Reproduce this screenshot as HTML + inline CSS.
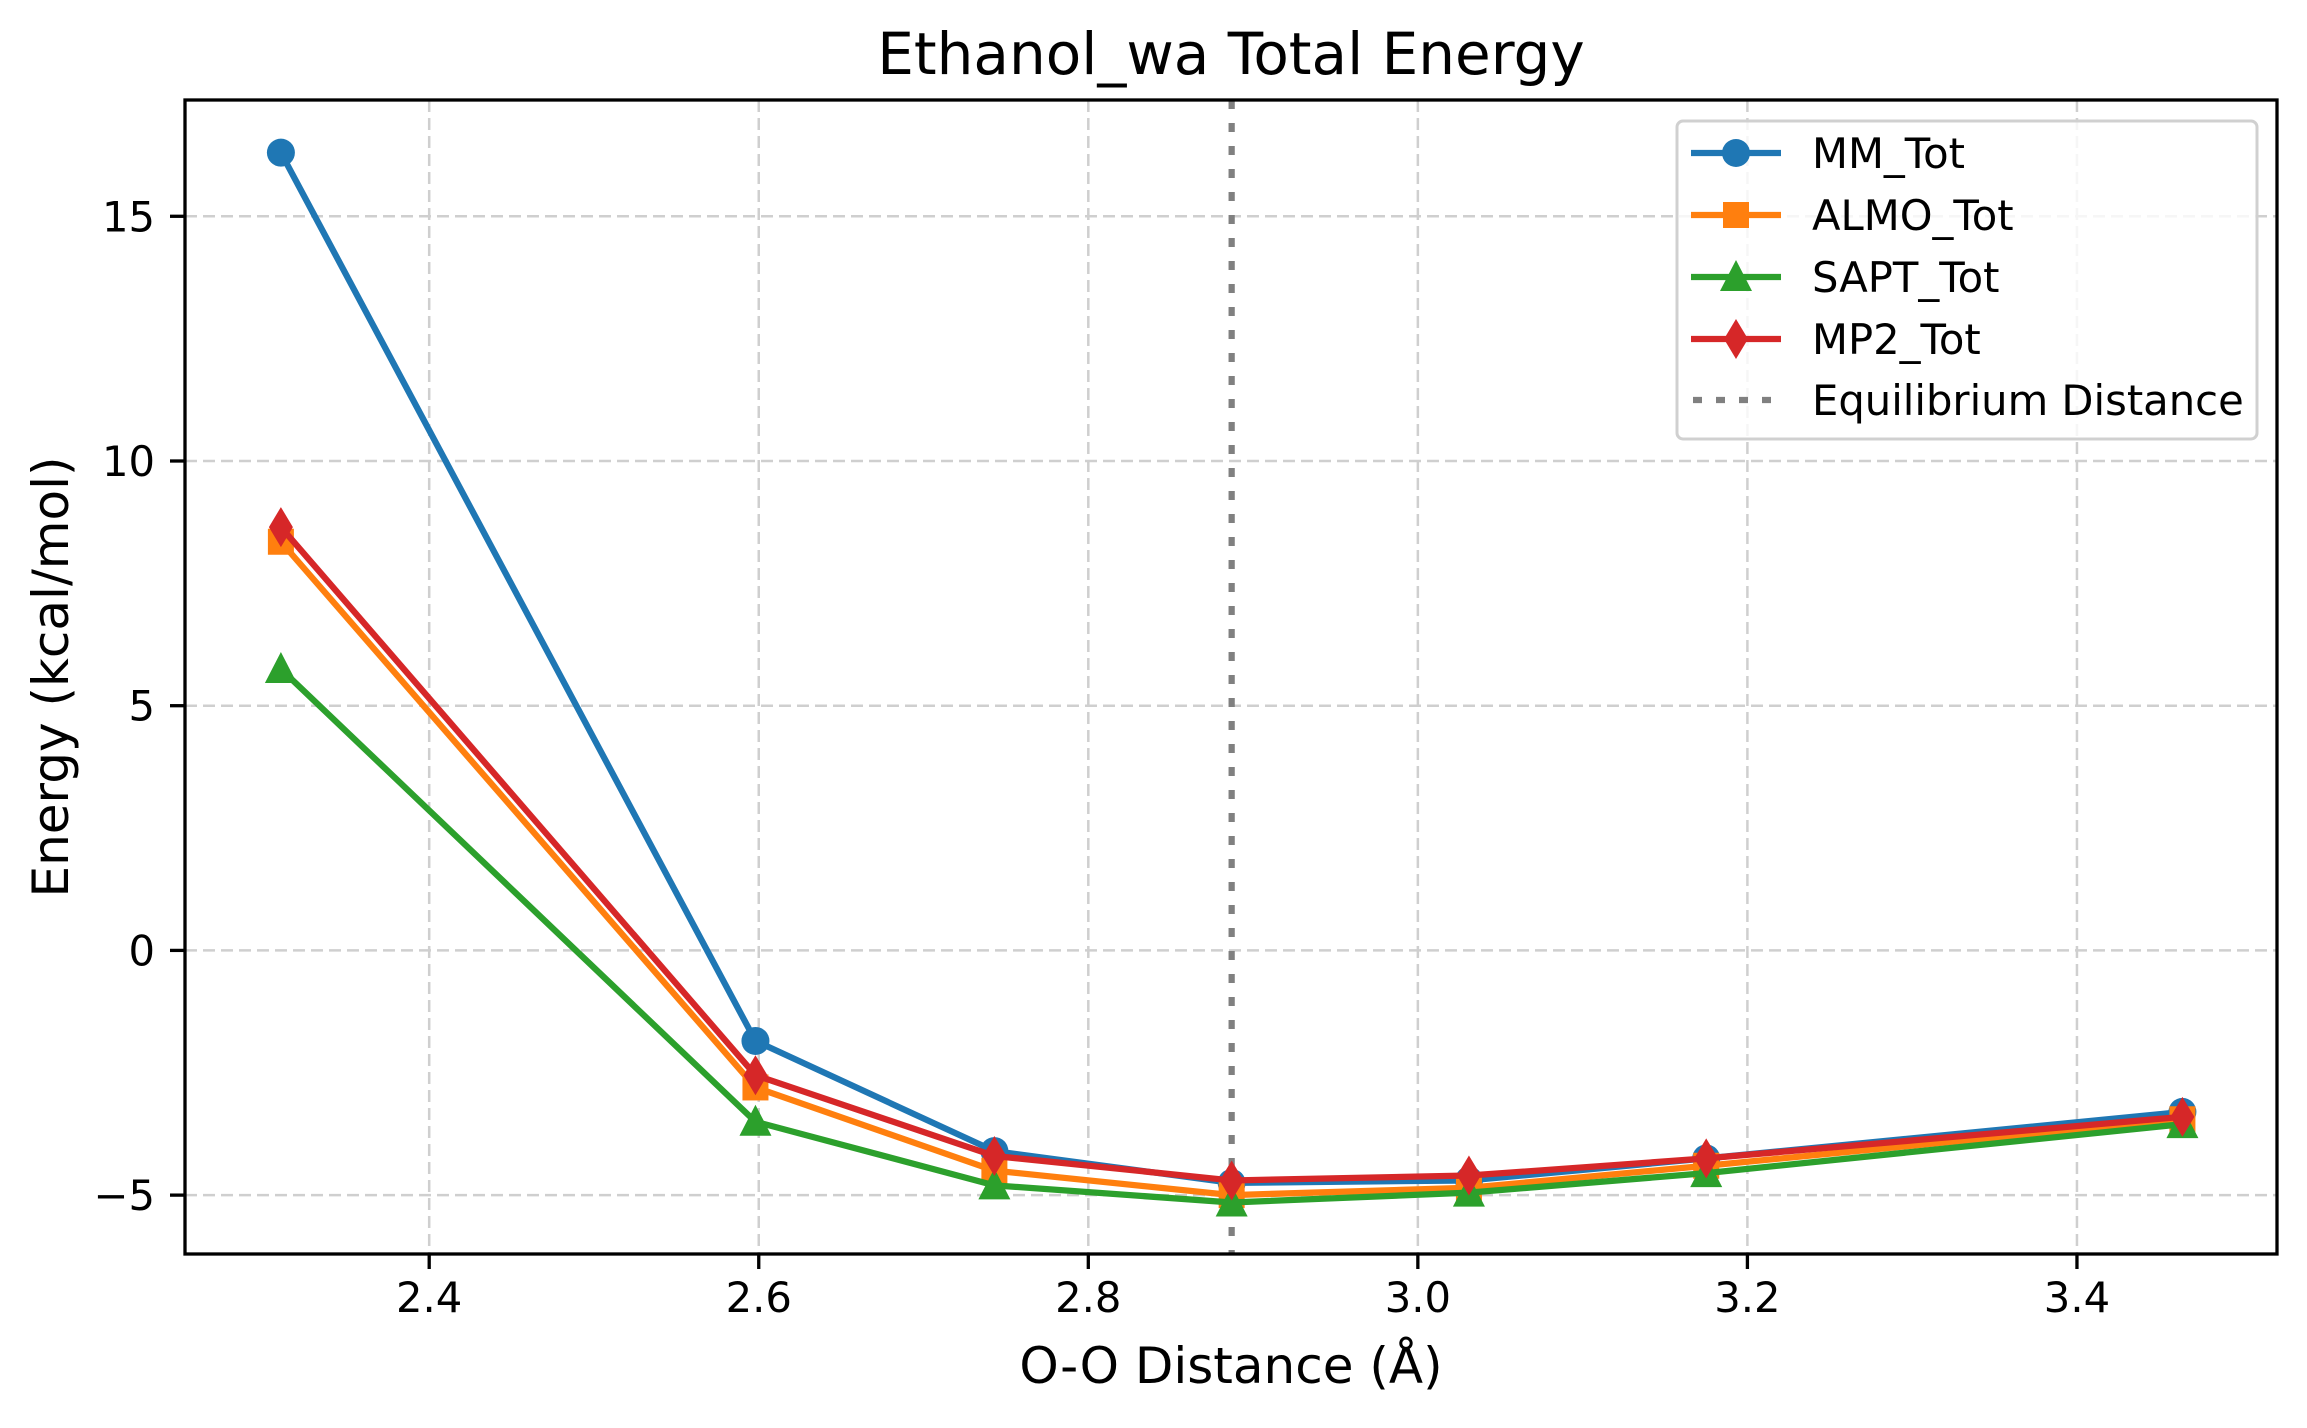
<!DOCTYPE html>
<html><head><meta charset="utf-8"><style>
html,body{margin:0;padding:0;background:#fff}
svg text{font-family:"DejaVu Sans","Liberation Sans",sans-serif;fill:#000}
</style></head><body>
<svg id="chart" width="2307" height="1423" viewBox="0 0 2307 1423" xmlns="http://www.w3.org/2000/svg">
<rect width="2307" height="1423" fill="#fff"/>
<g id="grid"></g>
<g id="eq"></g>
<g id="series"></g>
<rect x="185" y="100" width="2092" height="1154" fill="none" stroke="#000" stroke-width="3.3"/>
<g id="ticks"></g>
<text x="1231" y="74" font-size="58" text-anchor="middle">Ethanol_wa Total Energy</text>
<text x="1231" y="1383" font-size="50" text-anchor="middle">O-O Distance (Å)</text>
<text x="0" y="0" font-size="50" text-anchor="middle" transform="translate(68,677) rotate(-90)">Energy (kcal/mol)</text>
<g id="legend"></g>
</svg>
<script>
const distances = [2.310, 2.598, 2.743, 2.887, 3.031, 3.175, 3.464];
const mmTot   = [16.3, -1.85, -4.1, -4.75, -4.7, -4.25, -3.3];
const almoTot = [8.35, -2.8, -4.5, -5.0, -4.85, -4.4, -3.45];
const saptTot = [5.75, -3.5, -4.8, -5.15, -4.95, -4.55, -3.55];
const mp2Tot  = [8.65, -2.55, -4.2, -4.7, -4.6, -4.25, -3.4];
const equilibrium = 2.887;
const xTicks = [2.4, 2.6, 2.8, 3.0, 3.2, 3.4];
const xTickLabels = ["2.4", "2.6", "2.8", "3.0", "3.2", "3.4"];
const yTicks = [-5, 0, 5, 10, 15];
const yTickLabels = ["\u22125", "0", "5", "10", "15"];
const seriesNames = ["MM_Tot", "ALMO_Tot", "SAPT_Tot", "MP2_Tot"];

const NS = "http://www.w3.org/2000/svg";
const L = 185, R = 2277, T = 100, B = 1254;
const xMin = 2.2518, xMax = 3.5214, yMin = -6.203, yMax = 17.376;
const X = v => L + (v - xMin) / (xMax - xMin) * (R - L);
const Y = v => B - (v - yMin) / (yMax - yMin) * (B - T);
function mk(tag, attrs, parent) {
  const e = document.createElementNS(NS, tag);
  for (const k in attrs) e.setAttribute(k, attrs[k]);
  parent.appendChild(e); return e;
}
const grid = document.getElementById('grid'), ticks = document.getElementById('ticks');
xTicks.forEach((t, i) => {
  const gl = mk('line', {x1: X(t), x2: X(t), y1: T, y2: B, stroke: '#cfcfcf', 'stroke-width': 2.5, 'stroke-dasharray': '12,6'}, grid);
  
  
  const tk = mk('line', {x1: X(t), x2: X(t), y1: B, y2: B + 15, stroke: '#000', 'stroke-width': 3.3}, ticks);
  
  
  const tx = mk('text', {x: X(t), y: B + 58, 'font-size': 41.7, 'text-anchor': 'middle'}, ticks);
  tx.textContent = xTickLabels[i];
  
  
});
yTicks.forEach((t, i) => {
  const gl = mk('line', {x1: L, x2: R, y1: Y(t), y2: Y(t), stroke: '#cfcfcf', 'stroke-width': 2.5, 'stroke-dasharray': '12,6'}, grid);
  
  
  const tk = mk('line', {x1: L - 15, x2: L, y1: Y(t), y2: Y(t), stroke: '#000', 'stroke-width': 3.3}, ticks);
  
  
  const tx = mk('text', {x: L - 30, y: Y(t) + 15, 'font-size': 41.7, 'text-anchor': 'end'}, ticks);
  tx.textContent = yTickLabels[i];
  
  
});
const eqG = document.getElementById('eq');
const eqLine = mk('line', {x1: X(equilibrium), x2: X(equilibrium), y1: T, y2: B, stroke: '#808080', 'stroke-width': 6.25, 'stroke-dasharray': '9,14'}, eqG);



const colors = ['#1f77b4', '#ff7f0e', '#2ca02c', '#d62728'];
const shapes = ['circle', 'square', 'triangle', 'diamond'];
function marker(shape, cx, cy, color, parent) {
  let e;
  if (shape === 'circle') e = mk('ellipse', {cx, cy, rx: 14, ry: 14, fill: color}, parent);
  else if (shape === 'square') e = mk('rect', {x: cx - 13, y: cy - 13, width: 26, height: 26, fill: color}, parent);
  else if (shape === 'triangle') e = mk('polygon', {points: `${cx},${cy-17} ${cx+16},${cy+14} ${cx-16},${cy+14}`, fill: color}, parent);
  else e = mk('polygon', {points: `${cx},${cy-20} ${cx+12},${cy} ${cx},${cy+20} ${cx-12},${cy}`, fill: color}, parent);
  return e;
}
const sG = document.getElementById('series');
[mmTot, almoTot, saptTot, mp2Tot].forEach((vals, si) => {
  const g = mk('g', {}, sG);
  
  
  const pts = vals.map((v, i) => X(distances[i]) + ',' + Y(v)).join(' ');
  const pl = mk('polyline', {points: pts, fill: 'none', stroke: colors[si], 'stroke-width': 6.25, 'stroke-linejoin': 'round'}, g);
  
  
  vals.forEach((v, i) => {
    const m = marker(shapes[si], X(distances[i]), Y(v), colors[si], g);
    
    
  });
});
const lg = document.getElementById('legend');
const box = mk('rect', {x: 1677, y: 121, width: 580, height: 318, rx: 6, fill: '#fff', 'fill-opacity': 0.8, stroke: '#d0d0d0', 'stroke-width': 3}, lg);


const ly = [153, 215, 277, 339, 400];
seriesNames.forEach((n, i) => {
  const g = mk('g', {}, lg);
  
  
  mk('line', {x1: 1691, x2: 1781, y1: ly[i], y2: ly[i], stroke: colors[i], 'stroke-width': 6.25}, g);
  marker(shapes[i], 1736, ly[i], colors[i], g);
  const t = mk('text', {x: 1812, y: ly[i] + 15, 'font-size': 41.7}, g);
  t.textContent = n;
});
const ge = mk('g', {}, lg);


mk('line', {x1: 1693, x2: 1781, y1: ly[4], y2: ly[4], stroke: '#808080', 'stroke-width': 6.25, 'stroke-dasharray': '9,14'}, ge);
const te = mk('text', {x: 1812, y: ly[4] + 15, 'font-size': 41.7}, ge);
te.textContent = 'Equilibrium Distance';
</script>
</body></html>
